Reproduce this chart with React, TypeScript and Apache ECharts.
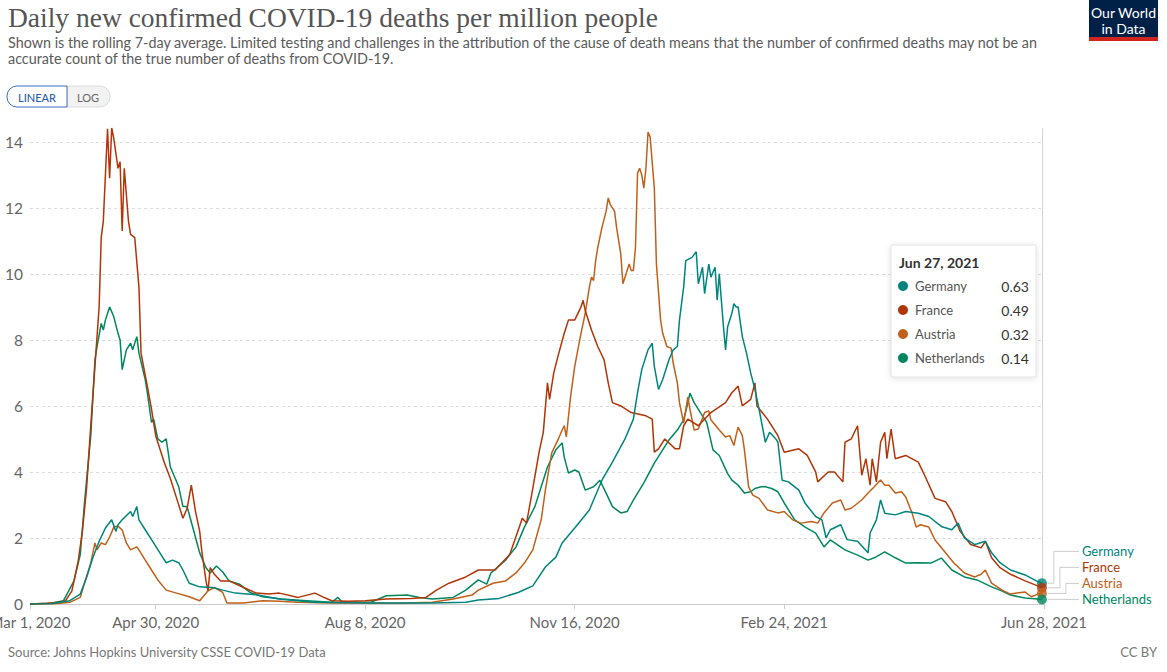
import React, { useEffect, useRef } from "react";
import * as echarts from "echarts";

const FONT = 'Lato, "Noto Sans", sans-serif';
const START_UTC = Date.UTC(2020, 2, 1);
const MONTHS = ["Jan", "Feb", "Mar", "Apr", "May", "Jun", "Jul", "Aug", "Sep", "Oct", "Nov", "Dec"];

const xTickDays = [0, 60, 160, 260, 360, 484];
const xTickLabels = ["Mar 1, 2020", "Apr 30, 2020", "Aug 8, 2020", "Nov 16, 2020", "Feb 24, 2021", "Jun 28, 2021"];
const yMax = 14.42;
const yInterval = 2;

const countries = ["Germany", "France", "Austria", "Netherlands"];
const colors = ["#00847E", "#B13507", "#C0601A", "#00875E"];

// [days since Mar 1, 2020, deaths per million (7-day avg)]
const germany: [number, number][] = [
  [0, 0], [10, 0.01], [19, 0.1], [24, 0.3], [27, 0.8], [30, 1.4], [33, 1.9], [36, 2.3], [39, 2.55], [41, 2.2], [42, 2.4], [44, 2.55], [48, 2.8], [49, 2.65], [51, 2.95], [52, 2.55], [55, 2.25], [59, 1.85], [62, 1.55], [65, 1.25], [68, 1.33], [71, 1.25], [73, 1.03], [76, 0.63], [81, 0.52], [87, 0.5], [92, 0.42], [98, 0.33], [108, 0.28], [119, 0.15], [135, 0.05], [160, 0.03], [192, 0.03], [208, 0.05], [214, 0.12], [224, 0.17], [233, 0.35], [240, 0.55], [246, 1.12], [251, 1.42], [254, 1.85], [260, 2.3], [267, 2.85], [273, 3.75], [278, 4.3], [284, 5.0], [288, 5.6], [290, 6.4], [292, 7.1], [295, 7.7], [297, 7.9], [298, 7.2], [300, 6.5], [302, 6.8], [305, 7.4], [307, 7.7], [309, 7.8], [310, 8.6], [312, 9.6], [313, 10.4], [316, 10.5], [318, 10.67], [319, 9.7], [321, 10.2], [322, 9.4], [324, 10.3], [325, 9.9], [327, 10.2], [328, 9.2], [329, 10.0], [331, 8.4], [332, 7.7], [333, 8.4], [335, 8.8], [336, 9.1], [337, 9.0], [338, 9.0], [340, 8.1], [342, 7.6], [344, 7.0], [346, 6.5], [348, 5.9], [351, 4.9], [353, 5.2], [356, 5.0], [357, 4.9], [359, 3.75], [362, 3.7], [367, 3.45], [370, 3.05], [375, 2.65], [378, 2.55], [380, 2.0], [382, 2.25], [387, 2.4], [390, 1.95], [395, 1.9], [400, 1.55], [401, 2.15], [404, 2.55], [406, 3.15], [408, 2.75], [413, 2.7], [418, 2.8], [424, 2.75], [429, 2.65], [435, 2.35], [440, 2.25], [443, 2.45], [446, 2.0], [451, 1.8], [456, 1.9], [459, 1.55], [463, 1.25], [468, 1.03], [475, 0.88], [481, 0.68], [483, 0.63],
];

const france: [number, number][] = [
  [0, 0], [8, 0.02], [14, 0.05], [17, 0.1], [20, 0.4], [23, 1.3], [25, 2.2], [27, 3.5], [29, 5.4], [31, 7.2], [33, 9.0], [34, 11.1], [35, 11.6], [37, 14.4], [38, 12.9], [39, 14.42], [40, 14.1], [42, 13.2], [43, 13.4], [44, 11.3], [45, 13.2], [47, 11.6], [48, 11.2], [50, 11.1], [52, 9.6], [53, 7.6], [56, 6.6], [58, 5.9], [60, 5.1], [64, 4.3], [67, 3.8], [70, 3.2], [73, 2.6], [75, 2.9], [77, 3.6], [79, 2.8], [81, 2.2], [82, 1.6], [84, 0.7], [85, 0.4], [86, 1.1], [88, 0.9], [91, 0.7], [95, 0.7], [102, 0.5], [108, 0.33], [114, 0.3], [119, 0.33], [128, 0.2], [136, 0.33], [141, 0.18], [144, 0.1], [152, 0.08], [160, 0.1], [170, 0.15], [182, 0.17], [189, 0.2], [194, 0.42], [200, 0.63], [208, 0.82], [214, 1.03], [222, 1.03], [229, 1.5], [235, 2.6], [237, 2.45], [240, 3.5], [243, 4.6], [245, 5.2], [247, 6.7], [248, 6.2], [250, 7.0], [252, 7.5], [255, 8.2], [257, 8.6], [260, 8.6], [263, 9.0], [264, 9.2], [265, 8.9], [268, 8.3], [271, 7.8], [274, 7.4], [276, 6.7], [278, 6.1], [282, 6.0], [287, 5.8], [294, 5.7], [297, 5.6], [298, 4.6], [300, 4.7], [303, 5.0], [308, 4.7], [310, 4.7], [312, 5.4], [314, 5.6], [319, 5.4], [325, 5.8], [332, 6.1], [335, 6.4], [338, 6.6], [340, 6.0], [344, 6.2], [346, 6.7], [347, 6.0], [352, 5.6], [357, 5.1], [360, 4.6], [367, 4.7], [371, 4.5], [375, 4.0], [376, 3.7], [381, 4.0], [384, 4.0], [388, 3.7], [389, 4.9], [392, 5.0], [395, 5.4], [397, 3.9], [399, 4.4], [401, 3.6], [402, 4.4], [404, 3.7], [406, 4.9], [408, 5.2], [409, 4.4], [411, 5.3], [413, 4.4], [418, 4.5], [424, 4.3], [427, 3.9], [432, 3.2], [437, 3.1], [440, 2.8], [444, 2.2], [449, 1.8], [454, 1.7], [456, 1.9], [459, 1.4], [463, 1.1], [468, 0.9], [475, 0.7], [481, 0.55], [483, 0.49],
];

const austria: [number, number][] = [
  [0, 0], [12, 0.01], [19, 0.05], [24, 0.2], [26, 0.63], [29, 1.24], [31, 1.85], [32, 1.64], [34, 1.85], [36, 1.8], [38, 2.03], [40, 2.33], [42, 2.36], [44, 2.24], [46, 1.85], [48, 1.64], [51, 1.73], [52, 1.64], [55, 1.33], [58, 1.03], [61, 0.73], [65, 0.42], [70, 0.33], [76, 0.22], [81, 0.1], [85, 0.4], [88, 0.5], [92, 0.35], [94, 0.03], [102, 0.03], [111, 0.1], [119, 0.08], [128, 0.05], [144, 0.03], [160, 0.03], [176, 0.02], [192, 0.05], [202, 0.15], [211, 0.27], [214, 0.42], [221, 0.63], [227, 0.7], [232, 0.94], [236, 1.24], [240, 1.64], [244, 2.55], [246, 3.45], [249, 4.57], [252, 4.97], [254, 5.27], [255, 5.4], [256, 5.06], [258, 6.27], [260, 7.2], [263, 8.2], [265, 8.8], [267, 9.6], [268, 9.9], [269, 9.8], [270, 10.4], [271, 10.8], [273, 11.4], [275, 11.9], [276, 12.3], [277, 12.1], [279, 11.9], [280, 11.4], [282, 10.6], [283, 9.7], [284, 9.9], [286, 10.3], [287, 10.1], [288, 10.1], [289, 10.8], [290, 13.06], [291, 13.2], [292, 13.0], [293, 12.6], [294, 13.2], [295, 14.3], [296, 14.15], [298, 12.6], [299, 10.3], [301, 8.6], [302, 8.2], [304, 7.8], [306, 7.75], [307, 7.3], [309, 6.7], [310, 6.1], [312, 5.48], [314, 6.27], [315, 5.9], [317, 5.27], [319, 5.3], [322, 5.8], [324, 5.85], [325, 5.58], [329, 5.27], [332, 5.06], [334, 5.1], [336, 4.8], [337, 5.1], [338, 5.36], [340, 5.1], [341, 4.67], [343, 3.55], [345, 3.3], [348, 3.2], [352, 2.85], [357, 2.76], [360, 2.8], [364, 2.55], [368, 2.45], [373, 2.5], [376, 2.45], [379, 2.76], [383, 3.06], [387, 3.15], [389, 2.85], [392, 2.9], [397, 3.15], [400, 3.36], [403, 3.55], [406, 3.76], [408, 3.6], [410, 3.6], [413, 3.36], [416, 3.4], [418, 3.24], [421, 2.76], [423, 2.33], [425, 2.4], [429, 2.33], [432, 1.94], [437, 1.55], [441, 1.24], [446, 0.94], [451, 0.82], [454, 0.9], [456, 1.03], [459, 0.63], [464, 0.42], [468, 0.3], [471, 0.33], [475, 0.36], [478, 0.22], [481, 0.3], [483, 0.32],
];

const netherlands: [number, number][] = [
  [0, 0], [10, 0.02], [16, 0.1], [21, 0.7], [24, 1.5], [26, 3.05], [29, 5.1], [31, 7.4], [32, 7.8], [34, 8.5], [35, 8.3], [36, 8.6], [38, 9.0], [40, 8.7], [42, 8.2], [43, 8.0], [44, 7.1], [46, 7.7], [48, 7.9], [49, 7.7], [51, 8.1], [52, 7.6], [55, 6.8], [56, 6.4], [58, 5.5], [59, 5.6], [61, 5.0], [63, 4.9], [65, 5.0], [67, 4.15], [71, 3.55], [73, 2.95], [75, 2.95], [78, 2.25], [81, 1.55], [84, 1.1], [86, 0.94], [89, 1.15], [92, 0.97], [95, 0.7], [100, 0.6], [105, 0.35], [111, 0.22], [120, 0.15], [132, 0.1], [144, 0.05], [147, 0.2], [149, 0.05], [163, 0.06], [170, 0.25], [180, 0.27], [186, 0.2], [192, 0.15], [202, 0.2], [208, 0.42], [214, 0.73], [218, 0.6], [220, 0.94], [227, 1.33], [232, 1.73], [236, 2.33], [241, 2.95], [244, 3.55], [247, 4.15], [251, 4.67], [254, 4.88], [255, 4.45], [257, 3.97], [260, 4.06], [262, 4.0], [265, 3.45], [269, 3.55], [272, 3.75], [275, 3.36], [278, 2.95], [282, 2.76], [285, 2.8], [288, 3.15], [293, 3.67], [298, 4.27], [302, 4.67], [305, 4.97], [309, 5.27], [312, 5.58], [314, 6.09], [315, 6.39], [317, 6.1], [320, 5.8], [323, 5.5], [326, 4.67], [329, 4.5], [333, 3.95], [335, 3.75], [338, 3.6], [341, 3.36], [344, 3.4], [346, 3.5], [349, 3.55], [351, 3.55], [354, 3.5], [357, 3.4], [360, 3.06], [365, 2.55], [370, 2.33], [375, 2.15], [379, 1.73], [382, 1.94], [389, 1.64], [395, 1.48], [400, 1.33], [403, 1.4], [408, 1.58], [413, 1.4], [418, 1.24], [424, 1.25], [430, 1.24], [435, 1.39], [440, 1.03], [446, 0.82], [452, 0.73], [459, 0.52], [463, 0.42], [468, 0.27], [475, 0.18], [481, 0.15], [483, 0.14],
];

const seriesData = [germany, france, austria, netherlands];

const TITLE = "Daily new confirmed COVID-19 deaths per million people";
const SUBTITLE_1 =
  "Shown is the rolling 7-day average. Limited testing and challenges in the attribution of the cause of death means that the number of confirmed deaths may not be an";
const SUBTITLE_2 = "accurate count of the true number of deaths from COVID-19.";
const SOURCE = "Source: Johns Hopkins University CSSE COVID-19 Data";

function dayLabel(d: number): string {
  const dt = new Date(START_UTC + d * 86400000);
  return `${MONTHS[dt.getUTCMonth()]} ${dt.getUTCDate()}, ${dt.getUTCFullYear()}`;
}

export default function App() {
  const ref = useRef<HTMLDivElement>(null);

  useEffect(() => {
    document.body.style.margin = "0";
    if (!ref.current) return;
    const chart = echarts.init(ref.current, null, { renderer: "svg" });

    const lastDay = germany[germany.length - 1][0];

    const lineSeries = seriesData.map((data, i) => ({
      name: countries[i],
      type: "line",
      data,
      showSymbol: false,
      symbol: "none",
      silent: true,
      clip: true,
      z: 3 + (3 - i),
      lineStyle: { color: colors[i], width: 1.5 },
      itemStyle: { color: colors[i] },
      markLine:
        i === 0
          ? {
              silent: true,
              symbol: "none",
              label: { show: false },
              lineStyle: { color: "#d5d5d5", type: "solid", width: 1 },
              data: [{ xAxis: lastDay }],
            }
          : undefined,
    }));

    const dotSeries = seriesData.map((data, i) => ({
      name: countries[i] + " end",
      type: "scatter",
      data: [data[data.length - 1]],
      symbolSize: 10,
      silent: true,
      z: 10,
      itemStyle: { color: colors[i] },
    }));

    chart.setOption({
      animation: false,
      backgroundColor: "#ffffff",
      textStyle: { fontFamily: FONT },
      grid: { left: 30, right: 123, top: 128, bottom: 68, containLabel: false, outerBoundsMode: "none" },
      xAxis: {
        type: "value",
        min: 0,
        max: 484,
        axisLine: { show: true, lineStyle: { color: "#cccccc" } },
        axisTick: { show: true, customValues: xTickDays, length: 5, lineStyle: { color: "#cccccc" } },
        axisLabel: {
          customValues: xTickDays,
          formatter: (v: number) => {
            const idx = xTickDays.indexOf(v);
            return idx >= 0 ? xTickLabels[idx] : "";
          },
          color: "#666666",
          fontSize: 15,
          fontFamily: FONT,
          margin: 10,
        },
        splitLine: { show: false },
      },
      yAxis: {
        type: "value",
        min: 0,
        max: yMax,
        interval: yInterval,
        axisLine: { show: false },
        axisTick: { show: false },
        axisLabel: { color: "#666666", fontSize: 15.5, fontFamily: FONT, margin: 7, showMaxLabel: false },
        splitLine: { show: true, showMaxLine: false, lineStyle: { color: "#dddddd", type: [3, 3], width: 1 } },
      },
      series: [...lineSeries, ...dotSeries],
    });

    // end labels with leader lines, laid out from the chart's own scale
    const ends = seriesData.map((d) => chart.convertToPixel({ gridIndex: 0 }, d[d.length - 1]) as number[]);
    const labelY: number[] = new Array(ends.length);
    for (let i = ends.length - 1; i >= 0; i--) {
      const py = ends[i][1];
      labelY[i] = i === ends.length - 1 ? py : Math.min(py, labelY[i + 1] - 16);
    }
    const leaderEls: any[] = [];
    ends.forEach((p, i) => {
      const vx = p[0] + 12 + i * 6;
      leaderEls.push({
        type: "polyline",
        silent: true,
        shape: { points: [[p[0] + 6, p[1]], [vx, p[1]], [vx, labelY[i]], [p[0] + 37, labelY[i]]] },
        style: { stroke: "#cccccc", lineWidth: 1, fill: null },
        z: 5,
      });
      leaderEls.push({
        type: "text",
        silent: true,
        x: p[0] + 40,
        y: labelY[i],
        style: {
          text: countries[i],
          fill: colors[i],
          font: `13px ${FONT}`,
          verticalAlign: "middle",
          textAlign: "left",
        },
        z: 5,
      });
    });

    // hover tooltip box (static)
    const tipX = 891;
    const tipY = 245;
    const tipEls: any[] = [
      {
        type: "rect",
        silent: true,
        shape: { x: tipX, y: tipY, width: 145, height: 132, r: 2 },
        style: { fill: "#ffffff", stroke: "#e2e2e2", lineWidth: 1, shadowBlur: 6, shadowColor: "rgba(0,0,0,0.12)", shadowOffsetY: 1 },
        z: 20,
      },
      {
        type: "text",
        silent: true,
        x: tipX + 8,
        y: tipY + 17,
        style: { text: dayLabel(lastDay), fill: "#333333", font: `bold 14px ${FONT}`, verticalAlign: "middle" },
        z: 21,
      },
    ];
    seriesData.forEach((d, i) => {
      const cy = tipY + 41 + i * 24;
      tipEls.push({
        type: "circle",
        silent: true,
        shape: { cx: tipX + 12, cy, r: 5 },
        style: { fill: colors[i] },
        z: 21,
      });
      tipEls.push({
        type: "text",
        silent: true,
        x: tipX + 24,
        y: cy,
        style: { text: countries[i], fill: "#555555", font: `13px ${FONT}`, verticalAlign: "middle" },
        z: 21,
      });
      tipEls.push({
        type: "text",
        silent: true,
        x: tipX + 138,
        y: cy,
        style: { text: d[d.length - 1][1].toFixed(2), fill: "#333333", font: `14px ${FONT}`, verticalAlign: "middle", textAlign: "right" },
        z: 21,
      });
    });

    const staticEls: any[] = [
      { type: "text", silent: true, x: 8, y: 17, style: { text: TITLE, fill: "#555555", font: '27.5px "Liberation Serif", "DejaVu Serif", serif', verticalAlign: "middle" } },
      { type: "text", silent: true, x: 8, y: 42, style: { text: SUBTITLE_1, fill: "#5b5b5b", font: `14.35px ${FONT}`, verticalAlign: "middle" } },
      { type: "text", silent: true, x: 8, y: 58, style: { text: SUBTITLE_2, fill: "#5b5b5b", font: `14.35px ${FONT}`, verticalAlign: "middle" } },
      // scale toggle
      { type: "rect", silent: true, shape: { x: 67, y: 86, width: 43, height: 21, r: [0, 10, 10, 0] }, style: { fill: "#f2f2f2", stroke: "#dcdcdc", lineWidth: 1 } },
      { type: "rect", silent: true, shape: { x: 7, y: 86, width: 60, height: 21, r: [10, 0, 0, 10] }, style: { fill: "#ffffff", stroke: "#3a6fc4", lineWidth: 1 } },
      { type: "text", silent: true, x: 37, y: 97, style: { text: "LINEAR", fill: "#2c5fad", font: `500 11px ${FONT}`, textAlign: "center", verticalAlign: "middle" } },
      { type: "text", silent: true, x: 88, y: 97, style: { text: "LOG", fill: "#666666", font: `11px ${FONT}`, textAlign: "center", verticalAlign: "middle" } },
      // logo
      { type: "rect", silent: true, shape: { x: 1089, y: 0, width: 69, height: 37 }, style: { fill: "#002147" } },
      { type: "rect", silent: true, shape: { x: 1089, y: 37, width: 69, height: 4 }, style: { fill: "#ce261e" } },
      { type: "text", silent: true, x: 1123.5, y: 12, style: { text: "Our World", fill: "#ffffff", font: `14px ${FONT}`, textAlign: "center", verticalAlign: "middle" } },
      { type: "text", silent: true, x: 1123.5, y: 28, style: { text: "in Data", fill: "#ffffff", font: `14px ${FONT}`, textAlign: "center", verticalAlign: "middle" } },
      // footer
      { type: "text", silent: true, x: 8, y: 652, style: { text: SOURCE, fill: "#777777", font: `13px ${FONT}`, verticalAlign: "middle" } },
      { type: "text", silent: true, x: 1157, y: 652, style: { text: "CC BY", fill: "#777777", font: `13px ${FONT}`, textAlign: "right", verticalAlign: "middle" } },
    ];

    chart.setOption({ graphic: [...staticEls, ...leaderEls, ...tipEls] });

    return () => {
      chart.dispose();
    };
  }, []);

  return <div ref={ref} style={{ width: 1167, height: 672 }} />;
}
